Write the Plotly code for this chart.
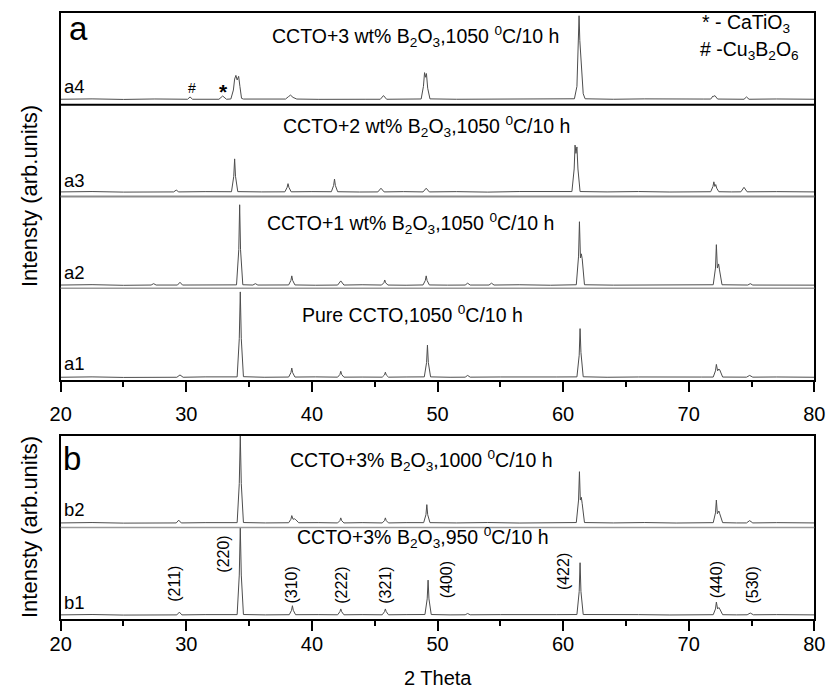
import plotly.graph_objects as go

# ---- XRD patterns: (2 theta, intensity) vertices, intensity in arb. units ----
a1_pts = [(20.0, 3.0), (22.5, 3.4), (25.0, 2.8), (27.4, 3.3),
          (29.25, 3.0), (29.5, 5.5), (29.75, 3.0), (31.5, 3.4), (33.5, 3.2),
          (34.05, 3.4), (34.22, 45), (34.3, 96), (34.38, 45), (34.55, 3.6), (36.2, 3.0),
          (38.15, 3.2), (38.33, 8), (38.4, 13), (38.47, 8), (38.65, 3.2), (40.3, 3.4),
          (42.05, 3.1), (42.23, 6), (42.3, 9.5), (42.37, 6), (42.55, 3.1), (44.0, 3.2),
          (45.6, 3.1), (45.78, 5.5), (45.85, 8.5), (45.92, 5.5), (46.1, 3.1), (47.5, 3.3),
          (48.95, 3.4), (49.13, 19), (49.2, 38), (49.27, 19), (49.45, 3.4), (51.0, 3.0),
          (52.2, 3.1), (52.4, 5), (52.6, 3.1), (55.0, 3.3), (57.5, 2.9), (59.5, 3.3),
          (61.1, 3.4), (61.28, 27), (61.35, 56), (61.42, 30), (61.6, 3.5),
          (63.5, 3.0), (66.0, 3.3), (68.5, 2.9), (71.0, 3.2),
          (71.95, 3.2), (72.13, 10), (72.2, 17), (72.3, 10), (72.4, 12), (72.47, 11), (72.7, 3.2),
          (73.8, 3.0), (74.6, 3.1), (74.85, 5), (75.1, 3.1), (77.0, 3.3), (80.0, 3.0)]

a2_pts = [(20.0, 3.5), (22.5, 3.9), (25.0, 3.2),
          (27.2, 3.5), (27.4, 5), (27.6, 3.5), (29.3, 3.5), (29.5, 6.5), (29.7, 3.5),
          (31.5, 3.8), (33.5, 3.4),
          (34.0, 3.7), (34.18, 42), (34.25, 91), (34.32, 42), (34.5, 3.8),
          (35.3, 3.5), (35.5, 5), (35.7, 3.5),
          (38.15, 3.6), (38.33, 8.5), (38.4, 13.5), (38.47, 8.5), (38.65, 3.6), (40.3, 3.3),
          (42.05, 3.5), (42.3, 8), (42.55, 3.5), (44.0, 3.8),
          (45.55, 3.5), (45.73, 6), (45.8, 9), (45.87, 6), (46.05, 3.5), (47.5, 3.3),
          (48.85, 3.6), (49.03, 8.5), (49.1, 13.5), (49.17, 8.5), (49.35, 3.6), (50.8, 3.4),
          (52.2, 3.5), (52.4, 5.5), (52.6, 3.5), (54.1, 3.5), (54.3, 5.5), (54.5, 3.5),
          (56.5, 3.8), (59.0, 3.3),
          (61.05, 3.8), (61.23, 35), (61.3, 72.5), (61.38, 33), (61.45, 37.5), (61.52, 32), (61.7, 3.8),
          (64.0, 3.4), (66.5, 3.7), (69.0, 3.3), (71.3, 3.6),
          (71.95, 3.8), (72.13, 22), (72.2, 47.5), (72.28, 22), (72.38, 26.5), (72.45, 20), (72.65, 3.8),
          (74.7, 3.5), (74.9, 5), (75.1, 3.5), (77.5, 3.8), (80.0, 3.4)]

a3_pts = [(20.0, 5.0), (22.5, 5.4), (25.0, 4.8), (27.0, 5.3),
          (29.0, 5.0), (29.2, 7), (29.4, 5.0), (31.5, 5.3), (33.4, 4.9),
          (33.6, 5.2), (33.78, 22), (33.85, 41), (33.92, 22), (34.1, 5.3), (36.0, 5.0),
          (37.85, 5.1), (38.03, 10), (38.1, 14), (38.17, 10), (38.35, 5.1), (40.0, 5.3),
          (41.55, 5.2), (41.73, 12), (41.8, 19), (41.87, 12), (42.05, 5.2), (43.8, 4.9),
          (45.25, 5.0), (45.5, 9), (45.75, 5.0), (47.3, 5.3),
          (48.85, 5.0), (49.1, 9), (49.35, 5.0),
          (51.5, 5.3), (54.0, 4.8), (56.5, 5.4), (59.0, 5.0),
          (60.7, 5.4), (60.88, 30), (60.95, 56), (61.02, 47), (61.1, 54), (61.18, 30), (61.35, 5.4),
          (63.5, 5.0), (66.0, 5.4), (68.5, 4.9), (70.8, 5.3),
          (71.75, 5.2), (71.93, 11), (72.0, 16), (72.08, 11), (72.15, 13), (72.23, 9), (72.4, 5.2),
          (73.4, 5.0), (74.15, 5.1), (74.4, 10), (74.65, 5.1), (77.0, 5.3), (80.0, 5.0)]

a4_pts = [(20.0, 6.0), (22.5, 6.4), (25.0, 5.8), (27.5, 6.3),
          (30.1, 6.0), (30.3, 8.5), (30.5, 6.0), (31.8, 6.2),
          (32.6, 6.0), (32.9, 9.5), (33.2, 6.0),
          (33.55, 6.3), (33.75, 16), (33.85, 28), (33.95, 32), (34.05, 27), (34.17, 31),
          (34.27, 20), (34.4, 7), (34.55, 6.2), (36.3, 6.0),
          (37.9, 6.2), (38.15, 9), (38.3, 10.5), (38.5, 8), (38.8, 6.2),
          (40.5, 5.9), (42.5, 6.3), (44.3, 6.0),
          (45.45, 6.0), (45.7, 10), (45.95, 6.0), (47.5, 6.3),
          (48.7, 6.3), (48.88, 20), (48.97, 35), (49.05, 30), (49.12, 34), (49.22, 18), (49.4, 6.4),
          (51.5, 6.0), (54.0, 6.3), (56.5, 5.8), (59.0, 6.3),
          (60.9, 6.5), (61.1, 20), (61.2, 55), (61.27, 97), (61.33, 70), (61.42, 52),
          (61.5, 35), (61.6, 12), (61.75, 6.5),
          (64.0, 6.0), (66.5, 6.4), (69.0, 5.9), (71.2, 6.2),
          (71.75, 6.2), (71.93, 9.5), (72.0, 9), (72.08, 10), (72.3, 6.2),
          (73.5, 6.0), (74.4, 6.0), (74.6, 8.5), (74.8, 6.0), (77.0, 6.3), (80.0, 6.0)]

b1_pts = [(20.0, 4.5), (22.5, 4.9), (25.0, 4.3), (27.5, 4.8),
          (29.25, 4.5), (29.45, 7.5), (29.65, 4.5), (31.5, 4.8), (33.5, 4.4),
          (34.05, 4.8), (34.22, 48), (34.3, 100), (34.38, 48), (34.55, 4.9), (36.3, 4.5),
          (38.2, 4.7), (38.38, 9.5), (38.45, 14.5), (38.52, 9.5), (38.7, 4.7), (40.5, 4.8),
          (42.05, 4.6), (42.23, 8), (42.3, 11), (42.37, 8), (42.55, 4.6), (44.0, 4.8),
          (45.6, 4.6), (45.78, 8), (45.85, 11), (45.92, 8), (46.1, 4.6), (47.5, 4.8),
          (49.0, 4.9), (49.18, 22), (49.25, 42.5), (49.32, 22), (49.5, 4.9), (51.0, 4.5),
          (52.2, 4.6), (52.4, 6), (52.6, 4.6), (55.0, 4.8), (57.5, 4.4), (59.5, 4.8),
          (61.1, 4.9), (61.28, 30), (61.35, 61.5), (61.42, 30), (61.6, 4.9),
          (63.5, 4.5), (66.0, 4.8), (68.5, 4.4), (71.0, 4.7),
          (71.95, 4.7), (72.13, 11), (72.2, 18.5), (72.3, 11), (72.4, 12.5), (72.47, 11), (72.7, 4.7),
          (73.8, 4.5), (74.65, 4.6), (74.9, 6.5), (75.15, 4.6), (77.0, 4.8), (80.0, 4.5)]

b2_pts = [(20.0, 5.0), (22.5, 5.4), (25.0, 4.8), (27.5, 5.3),
          (29.2, 5.0), (29.4, 8), (29.6, 5.0), (31.5, 5.3), (33.5, 4.9),
          (34.05, 5.3), (34.22, 48), (34.3, 100), (34.38, 48), (34.55, 5.4), (36.3, 5.0),
          (38.15, 5.2), (38.33, 9), (38.4, 13), (38.5, 9), (38.62, 9.5), (38.72, 8.5), (38.95, 5.2),
          (40.5, 5.3),
          (42.05, 5.0), (42.23, 7.5), (42.3, 10.5), (42.37, 7.5), (42.55, 5.0), (44.0, 5.3),
          (45.6, 5.0), (45.78, 7.5), (45.85, 10.5), (45.92, 7.5), (46.1, 5.0), (47.5, 5.3),
          (48.9, 5.3), (49.08, 14), (49.15, 25), (49.22, 14), (49.4, 5.3),
          (51.5, 5.0), (54.0, 5.4), (56.5, 4.9), (59.0, 5.3),
          (61.05, 5.4), (61.23, 30), (61.3, 61), (61.37, 30), (61.45, 33), (61.52, 26), (61.7, 5.4),
          (64.0, 5.0), (66.5, 5.4), (69.0, 4.9), (71.3, 5.3),
          (71.95, 5.3), (72.13, 16), (72.2, 30), (72.28, 15), (72.4, 18), (72.47, 15), (72.7, 5.3),
          (73.8, 5.0), (74.6, 5.0), (74.85, 7.5), (75.1, 5.0), (77.0, 5.3), (80.0, 5.0)]

# curve labels and sample descriptions
panel_a_names = ["a1", "a2", "a3", "a4"]
panel_b_names = ["b1", "b2"]
panel_a_titles = ["Pure CCTO,1050 <sup>0</sup>C/10 h",
                  "CCTO+1 wt% B<sub>2</sub>O<sub>3</sub>,1050 <sup>0</sup>C/10 h",
                  "CCTO+2 wt% B<sub>2</sub>O<sub>3</sub>,1050 <sup>0</sup>C/10 h",
                  "CCTO+3 wt% B<sub>2</sub>O<sub>3</sub>,1050 <sup>0</sup>C/10 h"]
panel_b_titles = ["CCTO+3% B<sub>2</sub>O<sub>3</sub>,950 <sup>0</sup>C/10 h",
                  "CCTO+3% B<sub>2</sub>O<sub>3</sub>,1000 <sup>0</sup>C/10 h"]

# Miller indices of the CCTO reflections
hkl_labels = ["(211)", "(220)", "(310)", "(222)", "(321)", "(400)", "(422)", "(440)", "(530)"]
hkl_two_theta = [29.0, 32.9, 38.3, 42.3, 45.8, 50.7, 60.0, 72.2, 75.0]

x_ticks = [20, 30, 40, 50, 60, 70, 80]

# ---- layout helpers ----
W, H = 838, 691
STEP = 100  # vertical offset between stacked patterns
FONT = "Liberation Sans, Arial, sans-serif"
LINE_COLOR = "#4d4d4d"


def px(x):
    return x / W


def py(y):
    return 1 - y / H


left, right = 51, 825
a_top, a_bot = 13, 380
b_top, b_bot = 436, 619

fig = go.Figure()

for i, pts in enumerate([a1_pts, a2_pts, a3_pts, a4_pts]):
    fig.add_trace(go.Scatter(
        x=[p[0] for p in pts], y=[p[1] + i * STEP for p in pts],
        mode="lines", line=dict(color=LINE_COLOR, width=1),
        xaxis="x", yaxis="y", showlegend=False, hoverinfo="skip"))

for i, pts in enumerate([b1_pts, b2_pts]):
    fig.add_trace(go.Scatter(
        x=[p[0] for p in pts], y=[p[1] + i * STEP for p in pts],
        mode="lines", line=dict(color=LINE_COLOR, width=1),
        xaxis="x2", yaxis="y2", showlegend=False, hoverinfo="skip"))

xax = dict(range=[20, 80], tickvals=x_ticks, ticks="outside", ticklen=10, tickwidth=1.5,
           tickcolor="black", minor=dict(dtick=5, tick0=20, ticks="outside", ticklen=5,
                                         tickwidth=1.5, tickcolor="black"),
           showline=True, linewidth=1.5, linecolor="black", mirror=True,
           showgrid=False, zeroline=False,
           tickfont=dict(family=FONT, size=20, color="black"))
yax = dict(showticklabels=False, ticks="", showline=True, linewidth=1.5, linecolor="black",
           mirror=True, showgrid=False, zeroline=False)

fig.update_layout(
    width=W, height=H, margin=dict(l=0, r=0, t=0, b=0),
    paper_bgcolor="white", plot_bgcolor="white",
    xaxis=dict(xax, domain=[px(left), px(right)], anchor="y", ticklabelstandoff=5),
    yaxis=dict(yax, domain=[py(a_bot), py(a_top)], range=[0, 4 * STEP], anchor="x"),
    xaxis2=dict(xax, domain=[px(left), px(right)], anchor="y2", ticklabelstandoff=-4),
    yaxis2=dict(yax, domain=[py(b_bot), py(b_top)], range=[0, 2 * STEP], anchor="x2"),
)

# separators between stacked patterns
seps = [("y", 3 * STEP, "black", 2), ("y", 2 * STEP, "#8c8c8c", 2),
        ("y", 1 * STEP, "#9a9a9a", 1.5), ("y2", 1 * STEP, "#9a9a9a", 1.5)]
for yref, yv, col, w in seps:
    fig.add_shape(type="line", xref="paper", x0=px(left), x1=px(right),
                  yref=yref, y0=yv, y1=yv, line=dict(color=col, width=w))

ann = []


def text(x, y, s, size, xanchor="left", angle=0, **kw):
    ann.append(dict(x=px(x), y=py(y), xref="paper", yref="paper", text=s, showarrow=False,
                    xanchor=xanchor, yanchor="middle", textangle=angle,
                    font=dict(family=FONT, size=size, color="black"), **kw))


# panel letters
text(57, 29, "a", 33)
text(51, 458, "b", 33)

# sample descriptions
for s, (x, y) in zip(panel_a_titles, [(297, 314), (261, 223), (277, 127), (266, 37)]):
    text(x, y, s, 19.5)
for s, (x, y) in zip(panel_b_titles, [(292, 537), (284, 460)]):
    text(x, y, s, 19.5)

# curve labels
for s, y in zip(panel_a_names, [363, 272, 180, 87]):
    text(52, y, s, 18.5)
for s, y in zip(panel_b_names, [602, 509]):
    text(52, y, s, 18.5)

# impurity phase markers
text(186, 88, "#", 14, xanchor="center")
text(218, 92, "<b>*</b>", 21, xanchor="center")
text(708, 23, "* - CaTiO<sub>3</sub>", 19.5)
text(706, 50, "# -Cu<sub>3</sub>B<sub>2</sub>O<sub>6</sub>", 19.5)

# reflection indices (rotated)
hkl_y = [584, 554, 585, 585, 585, 580, 572, 580, 585]
for s, t, y in zip(hkl_labels, hkl_two_theta, hkl_y):
    ann.append(dict(x=t, y=py(y), xref="x2", yref="paper", text=s, showarrow=False,
                    xanchor="center", yanchor="middle", textangle=-90,
                    font=dict(family=FONT, size=16, color="black")))

# axis titles
text(19, (a_top + a_bot) / 2, "Intensty (arb.units)", 22, xanchor="center", angle=-90)
text(19, (b_top + b_bot) / 2, "Intensty (arb.units)", 22, xanchor="center", angle=-90)
text((left + right) / 2, 678, "2 Theta", 20, xanchor="center")

fig.update_layout(annotations=ann)
fig.write_html("out.html")
